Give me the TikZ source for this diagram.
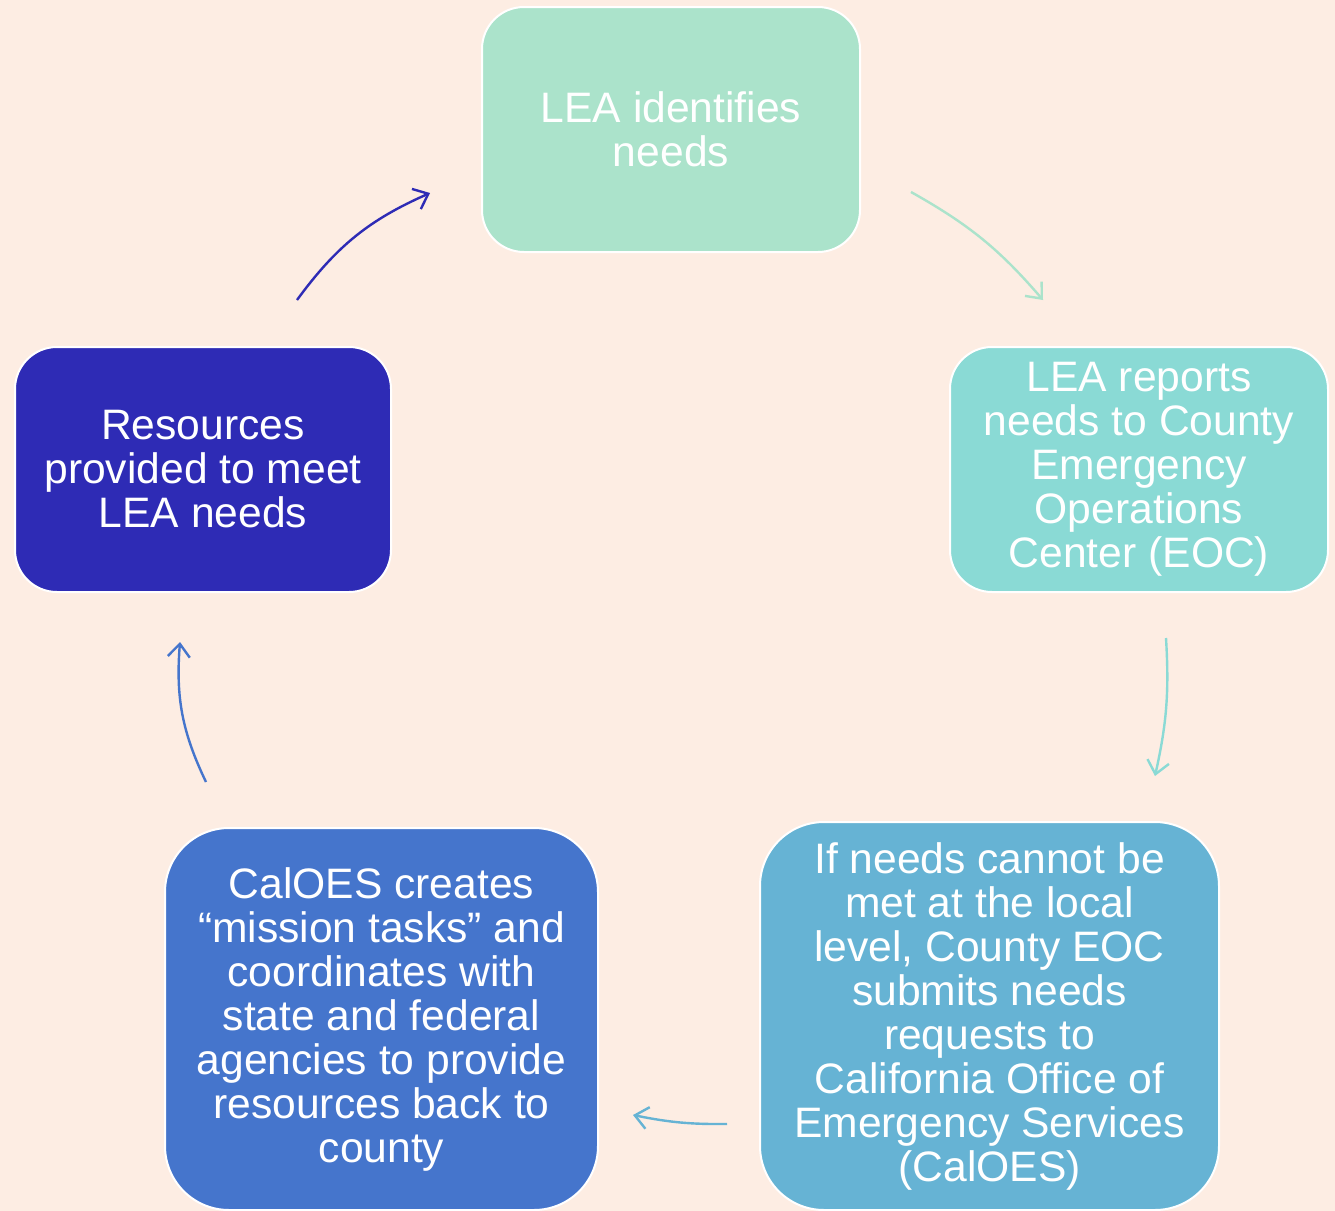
\documentclass[tikz,border=0pt]{standalone}
\usepackage{fontspec}
\setmainfont{Liberation Sans}
\usetikzlibrary{arrows.meta}
\definecolor{bg}{HTML}{FDEDE3}
\definecolor{cA}{HTML}{ABE3CB}
\definecolor{cB}{HTML}{8ADAD5}
\definecolor{cC}{HTML}{66B3D4}
\definecolor{cD}{HTML}{4575CC}
\definecolor{cE}{HTML}{2E2BB5}
\begin{document}
\begin{tikzpicture}[x=0.5pt,y=-0.5pt,
  box/.style={draw=white, line width=1pt, text=white, align=center, inner sep=0pt,
    font=\fontsize{21.3pt}{22pt}\selectfont},
  smallbox/.style={box, rounded corners=21pt, minimum width=189pt, minimum height=122.5pt},
  conn/.style={line width=1.2pt, -{Straight Barb[length=6.5pt,width=11pt]}}]
\fill[bg] (0,0) rectangle (1335,1211);
\useasboundingbox (0,0) rectangle (1335,1211);
\node[smallbox, fill=cA] (n1) at (671,129.5) {LEA identifies\\needs};
\node[smallbox, fill=cB] (n2) at (1139,469.5) {LEA reports\\needs to County\\Emergency\\Operations\\Center (EOC)};
\node[box, fill=cC, rounded corners=32pt, minimum width=229.5pt, minimum height=194pt] (n3) at (989.5,1016)
  {If needs cannot be\\met at the local\\level, County EOC\\submits needs\\requests to\\California Office of\\Emergency Services\\(CalOES)};
\node[box, fill=cD, rounded corners=32pt, minimum width=216.5pt, minimum height=191pt] (n4) at (381.5,1019)
  {CalOES creates\\“mission tasks” and\\coordinates with\\state and federal\\agencies to provide\\resources back to\\county};
\node[box, fill=cE, rounded corners=21pt, minimum width=188pt, minimum height=122.5pt] (n5) at (203,469.5)
  {Resources\\provided to meet\\LEA needs};
\coordinate (a1s) at (911,192);
\coordinate (a1e) at (1043,300);
\coordinate (a2s) at (1166,638);
\coordinate (a2e) at (1155,776);
\coordinate (a3s) at (727,1124);
\coordinate (a3e) at (633,1115);
\coordinate (a4s) at (206,782);
\coordinate (a4e) at (180,642);
\coordinate (a5s) at (297,300);
\coordinate (a5e) at (430,193);
\draw[conn, cA] (a1s) to[bend left=10] (a1e);
\draw[conn, cB] (a2s) to[bend left=8] (a2e);
\draw[conn, cC] (a3s) to[bend left=6] (a3e);
\draw[conn, cD] (a4s) to[bend left=15] (a4e);
\draw[conn, cE] (a5s) to[bend left=15] (a5e);
\end{tikzpicture}
\end{document}
